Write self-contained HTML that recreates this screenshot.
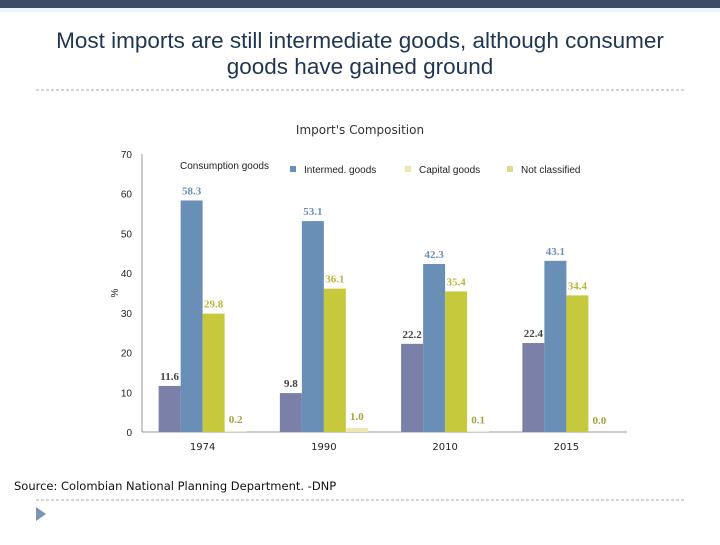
<!DOCTYPE html>
<html><head><meta charset="utf-8"><style>
body{margin:0;width:720px;height:540px;background:#fff;overflow:hidden;font-family:"Liberation Sans",sans-serif}
</style></head><body>
<svg width="720" height="540" xmlns="http://www.w3.org/2000/svg">
<rect x="0" y="0" width="720" height="8" fill="#3d4a68"/>
<rect x="0" y="8" width="720" height="4" fill="#e6f6fb"/>
<text x="360" y="48" text-anchor="middle" font-size="22.5" fill="#1f3550">Most imports are still intermediate goods, although consumer</text>
<text x="360" y="74" text-anchor="middle" font-size="22.5" fill="#1f3550">goods have gained ground</text>
<line x1="36" y1="90" x2="686" y2="90" stroke="#aaa" stroke-dasharray="3,2"/>
<text x="360" y="134" text-anchor="middle" font-size="12" fill="#333" font-family="DejaVu Sans, sans-serif">Import's Composition</text>
<g id="chart"></g>
<text x="14" y="490" font-size="11.5" fill="#111" font-family="DejaVu Sans, sans-serif">Source: Colombian National Planning Department. -DNP</text>
<line x1="36" y1="500" x2="686" y2="500" stroke="#aaa" stroke-dasharray="3,2"/>
<polygon points="36,507 36,521 46,514" fill="#7e93b3"/>
</svg>
<script>
const categories=["1974","1990","2010","2015"];
const seriesNames=["Consumption goods","Intermed. goods","Capital goods","Not classified"];
const consumption=[11.6,9.8,22.2,22.4];
const intermed=[58.3,53.1,42.3,43.1];
const capital=[29.8,36.1,35.4,34.4];
const notClassified=[0.2,1.0,0.1,0.0];
const yTicks=[0,10,20,30,40,50,60,70];
const NS="http://www.w3.org/2000/svg";
const g=document.getElementById('chart');
const x0=142,x1=627,yBase=432,yTop=154,yMax=70;
const y=v=>yBase-(v/yMax)*(yBase-yTop);
const bw=22;
const xBar=(ci,si)=>x0+(ci+0.5)*(x1-x0)/categories.length-2*bw+si*bw;
function el(t,a,txt){const e=document.createElementNS(NS,t);for(const k in a)e.setAttribute(k,a[k]);if(txt!==undefined)e.textContent=txt;g.appendChild(e);return e;}
let e=el('line',{x1:x0,y1:yTop,x2:x0,y2:yBase,stroke:'#999'});


e=el('line',{x1:x0,y1:yBase,x2:x1,y2:yBase,stroke:'#999'});


yTicks.forEach(t=>{
 const l=el('text',{x:132,y:y(t)+4,'text-anchor':'end','font-size':10,fill:'#222'},String(t));
 
 
});
e=el('text',{x:118,y:293,'font-size':10,fill:'#222',transform:'rotate(-90 118 293)','text-anchor':'middle'},'%');


categories.forEach((c,i)=>{
 const l=el('text',{x:x0+(i+0.5)*(x1-x0)/categories.length,y:450,'text-anchor':'middle','font-size':10,fill:'#222','font-family':'DejaVu Sans, sans-serif'},c);
 
 
});
const series=[consumption,intermed,capital,notClassified];
const colors=['#7b80a8','#6a8fb6','#c6c93c','#eee6b0'];
const lcolors=['#444','#6a8fb6','#b5b83a','#a7a040'];
series.forEach((s,si)=>{
 s.forEach((v,ci)=>{
  const bx=xBar(ci,si);
  const r=el('rect',{x:bx,y:y(v),width:bw,height:yBase-y(v),fill:colors[si]});
  
  
  const ly=si===3?y(v)-8:y(v)-6;
  const t=el('text',{x:bx+bw/2,y:ly,'text-anchor':'middle','font-size':11,'font-weight':'bold',fill:lcolors[si],'font-family':'Liberation Serif, serif'},v.toFixed(1));
  
  
 });
});
const leg=[[180,'Consumption goods',null],[290,'Intermed. goods','#6a8fb6'],[405,'Capital goods','#eee6b0'],[507,'Not classified','#e0d890']];
leg.forEach((L,i)=>{
 if(L[2]){const m=el('rect',{x:L[0],y:166,width:6,height:6,fill:L[2]});
 
 }
 const t=el('text',{x:L[0]+(L[2]?14:0),y:i===0?169:173,'font-size':10,fill:'#222'},L[1]);
 
 
});
</script>
</body></html>
